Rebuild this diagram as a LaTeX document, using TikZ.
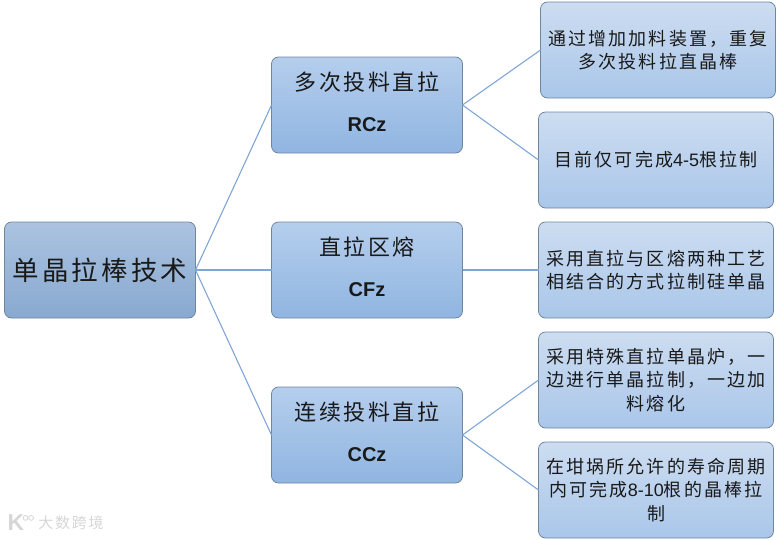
\documentclass[tikz,border=0pt]{standalone}
\usepackage{fontspec}
\setmainfont{Liberation Sans}
\newfontfamily\cjk[LetterSpace=12]{Noto Sans CJK SC}
\newfontfamily\lat{Liberation Sans}
\usetikzlibrary{positioning}

\definecolor{edgeblue}{HTML}{7FA6D6}
\definecolor{boxline}{HTML}{6F869F}
\definecolor{markgray}{HTML}{D6D6D6}
\definecolor{rootTop}{HTML}{ABC3E0}
\definecolor{rootBot}{HTML}{88A9D0}
\definecolor{midTop}{HTML}{B5CEED}
\definecolor{midBot}{HTML}{90B5E1}
\definecolor{leafTop}{HTML}{CDDDF1}
\definecolor{leafBot}{HTML}{A9C6E9}

\begin{document}
\begin{tikzpicture}[x=1pt, y=1pt,
  box/.style={draw=boxline, line width=.8pt, rounded corners=7pt, inner sep=0pt, outer sep=0pt,
    minimum width=191pt, minimum height=96pt, align=center, text=black!90},
  rootbox/.style={box, top color=rootTop, bottom color=rootBot, font=\cjk\fontsize{26.5}{30}\selectfont},
  midbox/.style={box, top color=midTop, bottom color=midBot, text depth=6pt, font=\cjk\fontsize{22}{26}\selectfont},
  leafbox/.style={box, top color=leafTop, bottom color=leafBot, minimum width=235pt, font=\cjk\fontsize{18}{23.5}\selectfont},
  link/.style={draw=edgeblue, line width=1.1pt}]

  \useasboundingbox (0,0) rectangle (781,-539);

  \node[rootbox] (root) at (100,-270) {单晶拉棒技术};

  \node[midbox] (cfz) [right=76pt of root] {直拉区熔\\[15pt]{\lat\bfseries\fontsize{20}{24}\selectfont CFz}};
  \node[midbox] (rcz) [above=69pt of cfz] {多次投料直拉\\[15pt]{\lat\bfseries\fontsize{20}{24}\selectfont RCz}};
  \node[midbox] (ccz) [below=69pt of cfz] {连续投料直拉\\[15pt]{\lat\bfseries\fontsize{20}{24}\selectfont CCz}};

  \node[leafbox] (mix) [right=76pt of cfz] {采用直拉与区熔两种工艺\\相结合的方式拉制硅单晶};
  \node[leafbox] (rate) [above=14pt of mix] {目前仅可完成{\lat 4-5}根拉制};
  \node[leafbox] (feed) [above=14pt of rate, xshift=2pt] {通过增加加料装置，重复\\多次投料拉直晶棒};
  \node[leafbox] (melt) [below=14pt of mix] {采用特殊直拉单晶炉，一\\边进行单晶拉制，一边加\\料熔化};
  \node[leafbox] (life) [below=14pt of melt] {在坩埚所允许的寿命周期\\内可完成{\lat 8-10}根的晶棒拉\\制};

  \draw[link] (root.east) -- (rcz.west);
  \draw[link] (root.east) -- (cfz.west);
  \draw[link] (root.east) -- (ccz.west);
  \draw[link] (rcz.east) -- (feed.west);
  \draw[link] (rcz.east) -- (rate.west);
  \draw[link] (cfz.east) -- (mix.west);
  \draw[link] (ccz.east) -- (melt.west);
  \draw[link] (ccz.east) -- (life.west);

  % watermark
  \node[text=markgray, font=\cjk\fontsize{15}{18}\selectfont, inner sep=0pt] (mark) at (71,-523) {大数跨境};
  \node[text=markgray, font=\lat\bfseries\fontsize{23}{24}\selectfont, inner sep=0pt] (logo) at (16,-523) {K};
  \node[draw=markgray, circle, inner sep=1.7pt, line width=.8pt, above right=-5pt and -1pt of logo] (dotl) {};
  \node[draw=markgray, circle, inner sep=1.7pt, line width=.8pt, right=0pt of dotl] (dotr) {};
\end{tikzpicture}
\end{document}
